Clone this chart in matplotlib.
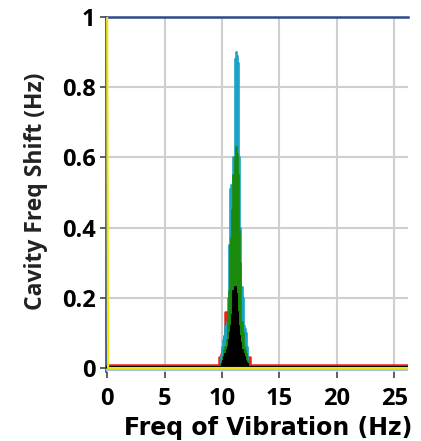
import matplotlib
matplotlib.use("Agg")
import matplotlib.pyplot as plt
import numpy as np

# bin left edges of the spectrum around the resonance (Hz)
freq = [9.7, 9.8, 9.9, 10.0, 10.1, 10.2, 10.3, 10.4, 10.5, 10.6, 10.7, 10.8, 10.9, 11.0,
        11.1, 11.2, 11.3, 11.4, 11.5, 11.6, 11.7, 11.8, 11.9, 12.0, 12.1, 12.2, 12.3, 12.4]

cyan_vals = [0.0, 0.0, 0.03, 0.06, 0.08, 0.09, 0.12, 0.13, 0.20, 0.35, 0.51, 0.52, 0.48, 0.60,
             0.88, 0.90, 0.89, 0.87, 0.60, 0.40, 0.23, 0.20, 0.12, 0.11, 0.10, 0.06, 0.0, 0.0]
green_vals = [0.0, 0.0, 0.01, 0.02, 0.03, 0.05, 0.06, 0.08, 0.16, 0.22, 0.35, 0.37, 0.45, 0.55,
              0.60, 0.63, 0.61, 0.55, 0.39, 0.30, 0.13, 0.10, 0.06, 0.05, 0.04, 0.02, 0.0, 0.0]
black_vals = [0.0, 0.0, 0.0, 0.01, 0.02, 0.03, 0.04, 0.05, 0.06, 0.08, 0.10, 0.12, 0.15, 0.22,
              0.23, 0.21, 0.16, 0.12, 0.09, 0.07, 0.05, 0.04, 0.03, 0.02, 0.015, 0.01, 0.0, 0.0]
red_vals = [0.03, 0.03, 0.04, 0.05, 0.06, 0.09, 0.16, 0.12, 0.06, 0.05, 0.04, 0.04, 0.04, 0.04,
            0.04, 0.04, 0.04, 0.04, 0.04, 0.04, 0.04, 0.04, 0.04, 0.04, 0.03, 0.03, 0.03, 0.0]

# flat baseline levels outside the resonance
red_base = 0.009
black_base = 0.004
yellow_freq = [0.0, 0.08, 26.2]
yellow_vals = [1.0, 0.0, 0.0]
blue_base = -0.005

x_ticks = [0, 5, 10, 15, 20, 25]
y_ticks = [0, 0.2, 0.4, 0.6, 0.8, 1]
y_tick_labels = ["0", "0.2", "0.4", "0.6", "0.8", "1"]

fig = plt.figure(figsize=(4.21, 4.41), dpi=100)
ax = fig.add_axes([106 / 421, 1 - 371.5 / 441, 302 / 421, 354.5 / 441])

def spectrum(vals, base):
    f = [0.0] + freq + [26.2]
    v = [base] + [max(a, base) for a in vals] + [base]
    return np.array(f), np.array(v)

f, v = spectrum(red_vals, red_base)
ax.fill_between(f, 0, v, step="post", color="#e8231a", lw=0, zorder=2)
ax.step(f, v, where="post", color="#e8231a", lw=1.8, zorder=2)

f, v = spectrum(cyan_vals, 0.0)
ax.fill_between(f, 0, v, step="post", color="#1ba3c6", lw=0, zorder=3)
ax.step(f, v, where="post", color="#1ba3c6", lw=1.2, zorder=3)

f, v = spectrum(green_vals, 0.0)
ax.fill_between(f, 0, v, step="post", color="#1a8a0c", lw=0, zorder=4)
ax.step(f, v, where="post", color="#1a8a0c", lw=1.2, zorder=4)

f, v = spectrum(black_vals, black_base)
ax.fill_between(f, 0, v, step="post", color="black", lw=0, zorder=5)
ax.step(f, v, where="post", color="black", lw=1.5, zorder=5)

ax.plot(yellow_freq, yellow_vals, color="#f2e600", lw=1.5, zorder=6)
ax.axhline(blue_base, color="#a8c4ec", lw=1.5, zorder=6)

ax.set_xlim(-0.1, 26.2)
ax.set_ylim(-0.01, 1.0)
ax.set_xticks(x_ticks)
ax.set_yticks(y_ticks)
ax.set_yticklabels(y_tick_labels)
ax.grid(True, color="#cfcfcf", lw=1.5, zorder=0)
ax.set_axisbelow(True)

for side in ["right", "bottom"]:
    ax.spines[side].set_visible(False)
ax.spines["top"].set_color("#2e4a8c")
ax.spines["top"].set_linewidth(1.8)
ax.spines["left"].set_color("#2e4a8c")
ax.spines["left"].set_linewidth(1.2)

ax.tick_params(axis="both", direction="out", length=4.5, width=1.2, color="#444444", pad=3)
ax.tick_params(axis="x", pad=7)
for lab in ax.get_xticklabels() + ax.get_yticklabels():
    lab.set_fontfamily("Open Sans")
    lab.set_fontweight("bold")
    lab.set_fontsize(17)

ax.set_xlabel("Freq of Vibration (Hz)", fontsize=17, fontweight="bold", family="DejaVu Sans")
ax.xaxis.set_label_coords(0.536, -0.126)
ax.set_ylabel("Cavity Freq Shift (Hz)", fontsize=16.5, fontweight="bold", family="Open Sans",
              color="#222222")
ax.yaxis.set_label_coords(-0.192, 0.509)

fig.savefig("out.png", dpi=100)
